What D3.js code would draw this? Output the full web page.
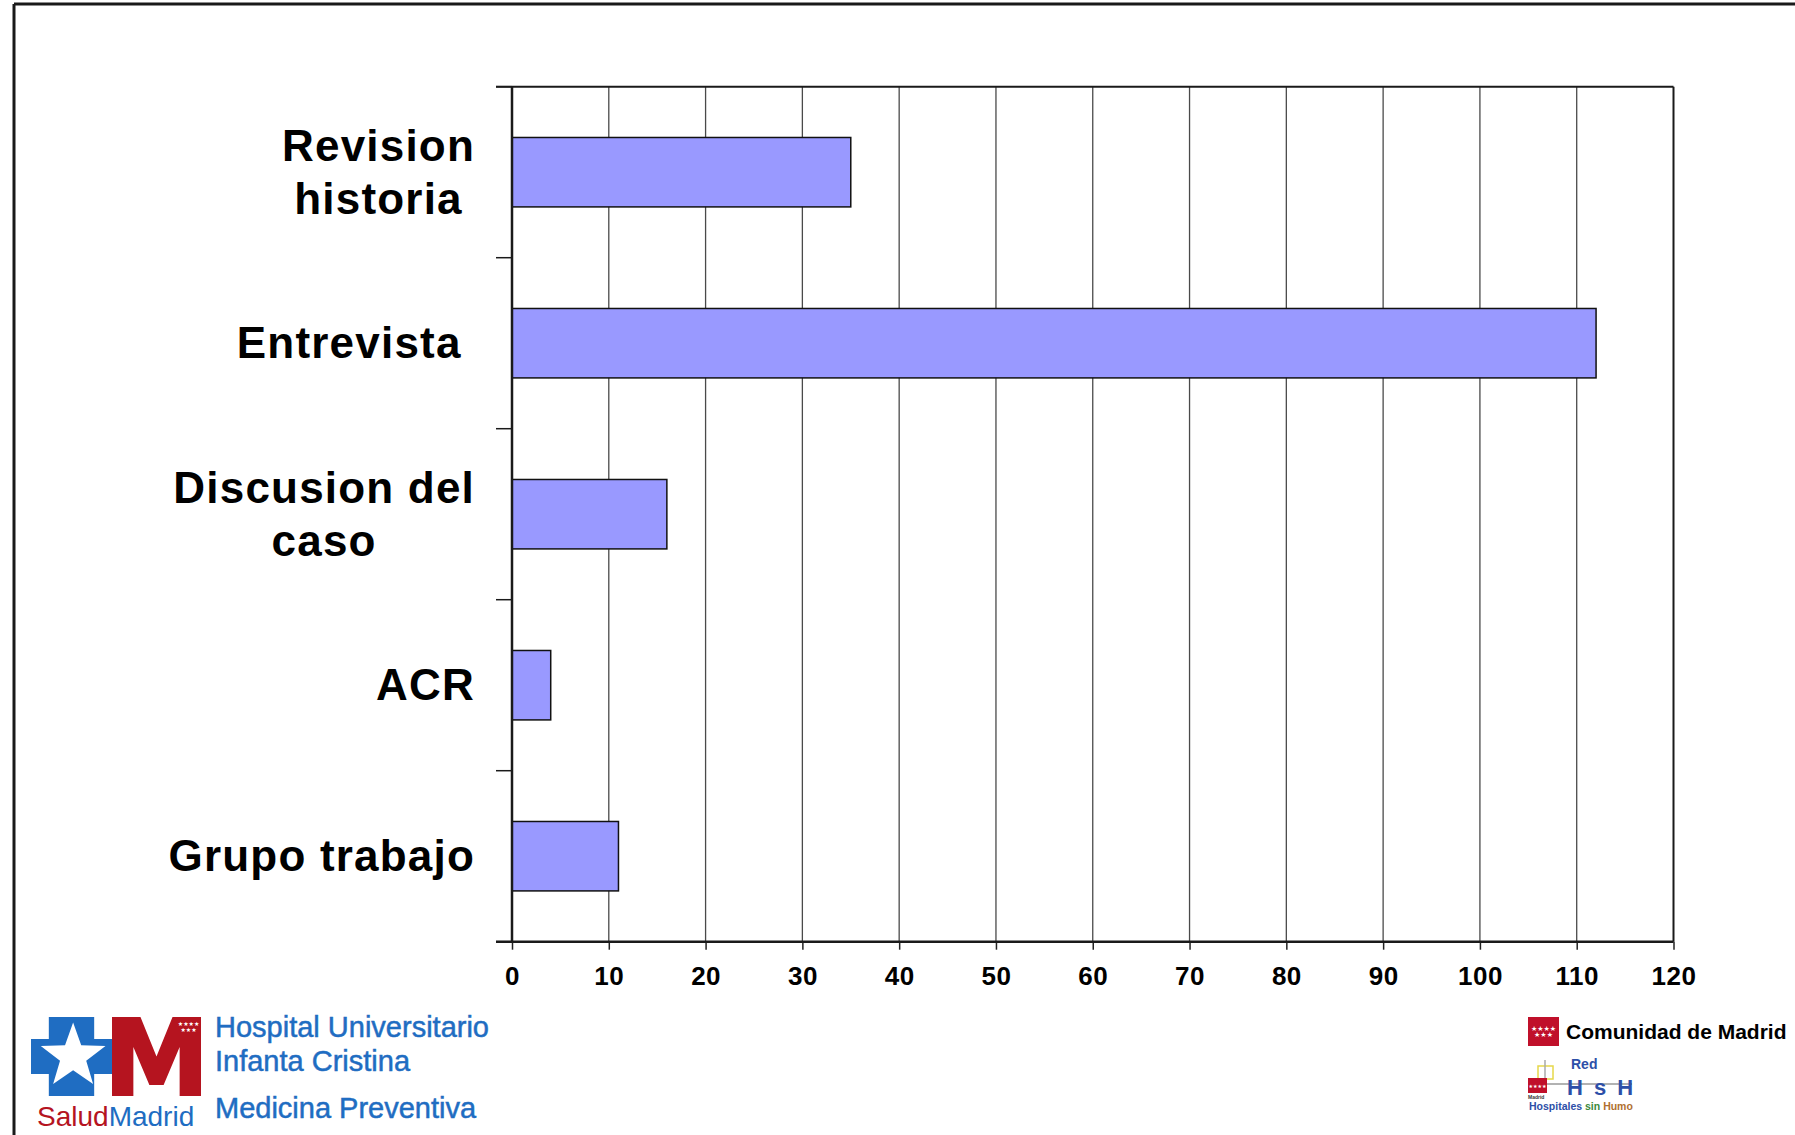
<!DOCTYPE html>
<html>
<head>
<meta charset="utf-8">
<script src="https://cdn.jsdelivr.net/npm/d3@7/dist/d3.min.js"></script>
<style>
  html, body { margin: 0; padding: 0; background: #fff; }
  svg { display: block; }
  text { font-family: "Liberation Sans", Arial, Helvetica, sans-serif; }
</style>
</head>
<body>
<svg id="chart" width="1795" height="1135"></svg>
<script>
// ---- data ----
const categories = ["Revision historia", "Entrevista", "Discusion del caso", "ACR", "Grupo trabajo"];
const labelLines = [["Revision", "historia"], ["Entrevista "], ["Discusion del", "caso"], ["ACR"], ["Grupo trabajo"]];
const values = [35, 112, 16, 4, 11];
const xTicks = [0, 10, 20, 30, 40, 50, 60, 70, 80, 90, 100, 110, 120];
const xDomain = [0, 120];
const hospitalLines = ["Hospital Universitario", "Infanta Cristina"];
const departmentLine = "Medicina Preventiva";

// ---- layout ----
const svg = d3.select("#chart");
const plot = { left: 512, right: 1673.5, top: 86.7, bottom: 941.7 };

const x = d3.scaleLinear().domain(xDomain).range([plot.left, plot.right]);
const y = d3.scaleBand().domain(categories).range([plot.top, plot.bottom])
  .paddingInner(0.594).paddingOuter(0.297);

// slide frame (top and left edges)
svg.append("line").attr("x1", 14).attr("x2", 1795).attr("y1", 4).attr("y2", 4)
  .attr("stroke", "#1a1a1a").attr("stroke-width", 3);
svg.append("line").attr("x1", 14).attr("x2", 14).attr("y1", 4).attr("y2", 1135)
  .attr("stroke", "#1a1a1a").attr("stroke-width", 3);

// gridlines
svg.append("g").selectAll("line")
  .data(xTicks.filter(t => t > xDomain[0] && t < xDomain[1]))
  .join("line")
  .attr("x1", d => x(d)).attr("x2", d => x(d))
  .attr("y1", plot.top).attr("y2", plot.bottom)
  .attr("stroke", "#4a4a4a").attr("stroke-width", 1.3);

// bars
svg.append("g").selectAll("rect")
  .data(categories.map((c, i) => ({ c, v: values[i] })))
  .join("rect")
  .attr("x", x(0))
  .attr("y", d => y(d.c))
  .attr("width", d => x(d.v) - x(0))
  .attr("height", y.bandwidth())
  .attr("fill", "#9999ff")
  .attr("stroke", "#111")
  .attr("stroke-width", 1.5);

// x axis (ticks + labels)
const xAxis = d3.axisBottom(x).tickValues(xTicks).tickSizeInner(8).tickSizeOuter(0).tickPadding(17);
const gx = svg.append("g").attr("transform", `translate(0,${plot.bottom})`).call(xAxis);
gx.select(".domain").remove();
gx.selectAll(".tick line").attr("stroke", "#222").attr("stroke-width", 1.5);
gx.selectAll(".tick text")
  .attr("fill", "#000")
  .style("font-family", "'Liberation Sans', Arial, sans-serif")
  .style("font-size", "26px")
  .style("font-weight", "bold")
  .style("letter-spacing", "0.5px");

// plot frame
const frame = svg.append("g").attr("stroke", "#1a1a1a").attr("fill", "none");
frame.append("line").attr("x1", plot.left - 16).attr("x2", plot.right)
  .attr("y1", plot.top).attr("y2", plot.top).attr("stroke-width", 2);
frame.append("line").attr("x1", plot.right).attr("x2", plot.right)
  .attr("y1", plot.top).attr("y2", plot.bottom).attr("stroke-width", 2);
frame.append("line").attr("x1", plot.left - 16).attr("x2", plot.right)
  .attr("y1", plot.bottom).attr("y2", plot.bottom).attr("stroke-width", 2.5);
frame.append("line").attr("x1", plot.left).attr("x2", plot.left)
  .attr("y1", plot.top).attr("y2", plot.bottom).attr("stroke-width", 2.5);

// category boundary ticks on the left axis
const bounds = d3.range(categories.length + 1).map(i => plot.top + i * y.step());
frame.selectAll(".ctick").data(bounds).join("line")
  .attr("class", "ctick")
  .attr("x1", plot.left - 16).attr("x2", plot.left)
  .attr("y1", d => d).attr("y2", d => d)
  .attr("stroke-width", 1.5);

// category labels
const labelRight = 475;
const lineGap = 53;
const labelG = svg.append("g");
categories.forEach((c, i) => {
  const lines = labelLines[i];
  const cy = y(c) + y.bandwidth() / 2;
  const t = labelG.append("g");
  const texts = lines.map((ln, k) => t.append("text")
    .attr("y", cy + (k - (lines.length - 1) / 2) * lineGap + 15)
    .attr("text-anchor", "middle")
    .style("font-size", "44px")
    .style("font-weight", "bold")
    .style("letter-spacing", "1.2px")
    .style("white-space", "pre")
    .attr("fill", "#000")
    .text(ln));
  const maxW = d3.max(texts, tx => tx.node().getComputedTextLength());
  texts.forEach(tx => tx.attr("x", labelRight - maxW / 2));
});

// ---- footer logos ----
const blue = "#1f6dc2";
const red = "#b5141f";
const logo = svg.append("g");

// SaludMadrid symbol: blue cross with white star
const bx = 31, by = 1017, bw = 81, bh = 79;
logo.append("path")
  .attr("d", `M${bx + bw * 0.22},${by} H${bx + bw * 0.78} V${by + bh * 0.28} H${bx + bw} V${by + bh * 0.72} H${bx + bw * 0.78} V${by + bh} H${bx + bw * 0.22} V${by + bh * 0.72} H${bx} V${by + bh * 0.28} H${bx + bw * 0.22} Z`)
  .attr("fill", blue);
const starPts = d3.range(10).map(k => {
  const r = k % 2 === 0 ? bw * 0.42 : bw * 0.17;
  const a = -Math.PI / 2 + k * Math.PI / 5;
  return [bx + bw * 0.52 + r * Math.cos(a), by + bh * 0.5 + r * Math.sin(a)];
});
logo.append("polygon").attr("points", starPts.map(p => p.join(",")).join(" ")).attr("fill", "#fff");

// red M
const mx = 112, my = 1017, mw = 89, mh = 79;
logo.append("path")
  .attr("d", `M${mx},${my + mh} V${my} H${mx + mw * 0.32} L${mx + mw * 0.5},${my + mh * 0.5} L${mx + mw * 0.68},${my} H${mx + mw} V${my + mh} H${mx + mw * 0.76} V${my + mh * 0.38} L${mx + mw * 0.58},${my + mh * 0.86} H${mx + mw * 0.42} L${mx + mw * 0.24},${my + mh * 0.38} V${my + mh} Z`)
  .attr("fill", red);
logo.append("text").attr("x", mx + mw * 0.86).attr("y", my + 9).attr("text-anchor", "middle")
  .style("font-family", "'DejaVu Sans', sans-serif").style("font-size", "6px").attr("fill", "#fff").text("★★★★");
logo.append("text").attr("x", mx + mw * 0.86).attr("y", my + 15).attr("text-anchor", "middle")
  .style("font-family", "'DejaVu Sans', sans-serif").style("font-size", "6px").attr("fill", "#fff").text("★★★");

const sm = logo.append("text").attr("x", 37).attr("y", 1126)
  .style("font-size", "28px").style("letter-spacing", "0px");
sm.append("tspan").attr("fill", red).text("Salud");
sm.append("tspan").attr("fill", blue).text("Madrid");

hospitalLines.forEach((ln, i) => {
  logo.append("text").attr("x", 215).attr("y", 1037 + i * 34)
    .style("font-size", "29px").attr("fill", blue)
    .attr("stroke", blue).attr("stroke-width", 0.5).text(ln);
});
logo.append("text").attr("x", 215).attr("y", 1118)
  .style("font-size", "29px").attr("fill", blue)
  .attr("stroke", blue).attr("stroke-width", 0.5).text(departmentLine);

// Comunidad de Madrid
const cm = svg.append("g");
cm.append("rect").attr("x", 1528).attr("y", 1017).attr("width", 31).attr("height", 29).attr("fill", "#c0102a");
cm.append("text").attr("x", 1543.5).attr("y", 1031).attr("text-anchor", "middle")
  .style("font-family", "'DejaVu Sans', sans-serif").style("font-size", "7px").attr("fill", "#fff").text("★★★★");
cm.append("text").attr("x", 1543.5).attr("y", 1037).attr("text-anchor", "middle")
  .style("font-family", "'DejaVu Sans', sans-serif").style("font-size", "7px").attr("fill", "#fff").text("★★★");
cm.append("text").attr("x", 1566).attr("y", 1039)
  .style("font-size", "21px").style("font-weight", "bold").attr("fill", "#000").text("Comunidad de Madrid");

// Red HsH
const hs = svg.append("g");
hs.append("rect").attr("x", 1538).attr("y", 1066).attr("width", 15).attr("height", 13)
  .attr("fill", "none").attr("stroke", "#e6d84a").attr("stroke-width", 1.5);
hs.append("line").attr("x1", 1545).attr("x2", 1545).attr("y1", 1060).attr("y2", 1092).attr("stroke", "#aaa").attr("stroke-width", 1.5);
hs.append("line").attr("x1", 1530).attr("x2", 1632).attr("y1", 1084).attr("y2", 1084).attr("stroke", "#999").attr("stroke-width", 1.5);
hs.append("rect").attr("x", 1528).attr("y", 1078).attr("width", 19).attr("height", 15).attr("fill", "#c0102a");
hs.append("text").attr("x", 1537.5).attr("y", 1088).attr("text-anchor", "middle")
  .style("font-family", "'DejaVu Sans', sans-serif").style("font-size", "5px").attr("fill", "#fff").text("★★★★");
hs.append("text").attr("x", 1528).attr("y", 1099).style("font-size", "5px").style("font-weight", "bold").attr("fill", "#333").text("Madrid");
hs.append("text").attr("x", 1571).attr("y", 1069).style("font-size", "14px").style("font-weight", "bold").attr("fill", "#2d4fa8").text("Red");
hs.append("text").attr("x", 1567).attr("y", 1095).style("font-size", "22px").style("font-weight", "bold").attr("fill", "#2d4fa8")
  .style("letter-spacing", "2.5px").style("white-space", "pre").text("H s H");
const hh = hs.append("text").attr("x", 1529).attr("y", 1110).style("font-size", "10.5px").style("font-weight", "bold");
hh.append("tspan").attr("fill", "#2d4fa8").text("Hospitales ");
hh.append("tspan").attr("fill", "#3a8a3a").text("sin ");
hh.append("tspan").attr("fill", "#b07030").text("Humo");
</script>
</body>
</html>
